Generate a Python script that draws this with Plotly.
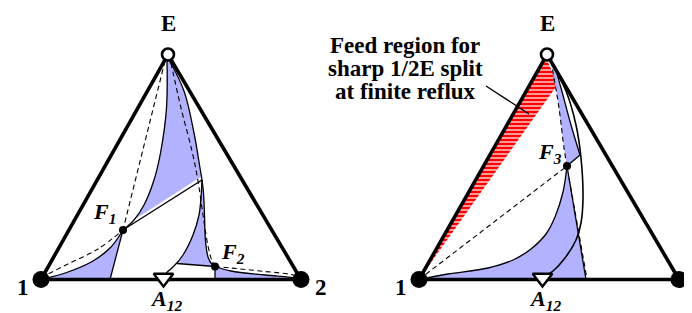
import plotly.graph_objects as go

# ---------------- data (drawing coordinates, pixel-like units) ----------------
# Left diagram
L_vertex_x = [33, 293, 160]          # 1, 2, E
L_vertex_y = [271.5, 271.5, 46.5]
L_A12 = [155.5, 270]
L_F1 = [115, 222]
L_F2 = [207, 258.5]
L_P = [194, 172]
L_foot_F1 = [102, 271.5]
L_foot_F2 = [207, 271.5]
L_tie_start = [169, 255.5]

L_curve_1F1_x = [33, 60, 85, 103, 115]
L_curve_1F1_y = [271.5, 264, 253, 239, 222]
L_dash_1F1_x = [33, 60, 90, 115]
L_dash_1F1_y = [269.5, 256, 241, 222]
L_curve_EF1_x = [159, 158.5, 152.5, 146, 136, 126, 115]
L_curve_EF1_y = [53, 100, 145, 172, 197, 212, 222]
L_dash_EF1_x = [157, 115]
L_dash_EF1_y = [53, 222]
L_curve_EP_x = [161, 176, 186, 192, 194]
L_curve_EP_y = [52, 83, 125, 160, 172]
L_curve_PF2_x = [194, 195.5, 196.5, 197.5, 200, 203, 207]
L_curve_PF2_y = [172, 185, 207, 233, 249, 255, 258.5]
L_sep_x = [194, 193, 191, 185, 175, 166, 158]
L_sep_y = [172, 190, 207, 227, 247, 258, 265]
L_dash_EF2_x = [163, 173, 184, 190, 195, 200, 204, 207]
L_dash_EF2_y = [55, 100, 143, 173, 207, 238, 253, 258.5]
L_curve_F2V2_x = [207, 223, 257, 287, 293]
L_curve_F2V2_y = [258.5, 263, 267, 270, 271.5]
L_dash_F2V2_x = [207, 223, 257, 283, 293]
L_dash_F2V2_y = [258.5, 260, 263.5, 266.5, 270]

# Right diagram
R_vertex_x = [411, 671, 539]
R_vertex_y = [271.5, 271.5, 46.5]
R_A12 = [534.5, 270]
R_F3 = [559, 158]
R_Q = [572, 147]
R_foot_F3 = [578, 271.5]
R_red_x = [538, 550, 412]
R_red_y = [50, 76, 270]
R_leader_x = [478, 521]
R_leader_y = [78, 106]
R_dash_1F3_x = [411, 559]
R_dash_1F3_y = [271.5, 158]
R_dash_EF3_x = [543, 551, 556, 559]
R_dash_EF3_y = [53, 100, 140, 158]
R_dash_F3down_x = [561, 579]
R_dash_F3down_y = [170, 271]
R_curve_EQ_x = [542, 546, 553, 563, 572]
R_curve_EQ_y = [51, 57, 80, 117, 147]
R_sep_x = [541, 558, 568, 573, 575, 573, 568, 557, 545, 537]
R_sep_y = [50, 83, 117, 150, 190, 215, 232, 250, 263, 268]
R_curve_1F3_x = [411, 440, 480, 505, 523, 538, 547, 555, 559]
R_curve_1F3_y = [271.5, 266, 260, 252, 241, 226, 209, 184, 158]

feed_text = ["Feed region for", "sharp 1/2E split", "at finite reflux"]
feed_text_x = 397
feed_text_y = [37, 60, 83]

BLUE = "rgb(178,178,255)"
FONT = "Liberation Serif"

fig = go.Figure()


def fill(xs, ys, color=BLUE, pattern=None):
    kw = {}
    if pattern is not None:
        kw["fillpattern"] = pattern
    fig.add_trace(go.Scatter(x=xs, y=ys, mode="lines", fill="toself",
                             fillcolor=color, line=dict(width=0, color=color),
                             hoverinfo="skip", showlegend=False, **kw))


def line(xs, ys, width=1.3, dash=None, color="black", shape="spline"):
    fig.add_trace(go.Scatter(x=xs, y=ys, mode="lines",
                             line=dict(width=width, color=color, dash=dash,
                                       shape=shape, smoothing=1.0),
                             hoverinfo="skip", showlegend=False))


DASH = "5px,3.5px"

# ---------------- left diagram ----------------
fill(L_curve_1F1_x + [L_foot_F1[0]], L_curve_1F1_y + [L_foot_F1[1]])
fill(L_curve_EF1_x + [L_P[0]] + L_curve_EP_x[::-1],
     L_curve_EF1_y + [L_P[1]] + L_curve_EP_y[::-1])
fill(L_sep_x[:5] + [L_tie_start[0]] + L_curve_PF2_x[::-1],
     L_sep_y[:5] + [L_tie_start[1]] + L_curve_PF2_y[::-1])
fill(L_curve_F2V2_x + [L_foot_F2[0]], L_curve_F2V2_y + [L_foot_F2[1]])

line([L_F1[0] + 2, L_P[0]], [L_F1[1] - 3, L_P[1] - 2.5], width=2.2, color="white", shape="linear")

line(L_curve_1F1_x, L_curve_1F1_y)
line(L_curve_EF1_x, L_curve_EF1_y)
line(L_curve_EP_x + L_curve_PF2_x[1:], L_curve_EP_y + L_curve_PF2_y[1:])
line(L_sep_x, L_sep_y)
line(L_curve_F2V2_x, L_curve_F2V2_y)
line([L_F1[0], L_P[0]], [L_F1[1], L_P[1]], shape="linear")
line([L_F1[0], L_foot_F1[0]], [L_F1[1], L_foot_F1[1]], shape="linear")
line([L_F2[0], L_foot_F2[0]], [L_F2[1], L_foot_F2[1]], shape="linear")
line([L_tie_start[0], L_F2[0]], [L_tie_start[1], L_F2[1]], shape="linear")
line(L_dash_1F1_x, L_dash_1F1_y, dash=DASH, width=1.1)
line(L_dash_EF1_x, L_dash_EF1_y, dash=DASH, width=1.1)
line(L_dash_EF2_x, L_dash_EF2_y, dash=DASH, width=1.1)
line(L_dash_F2V2_x, L_dash_F2V2_y, dash=DASH, width=1.1)

# ---------------- right diagram ----------------
fill(R_red_x, R_red_y, color="red",
     pattern=dict(shape="-", bgcolor="red", fgcolor="white", size=4, solidity=0.3,
                  fillmode="replace"))
fill(R_dash_EF3_x + [R_Q[0]] + R_curve_EQ_x[::-1],
     R_dash_EF3_y + [R_Q[1]] + R_curve_EQ_y[::-1])
fill(R_curve_1F3_x + [R_foot_F3[0]], R_curve_1F3_y + [R_foot_F3[1]])

line(R_curve_EQ_x, R_curve_EQ_y)
line(R_sep_x, R_sep_y, width=1.6)
line(R_curve_1F3_x, R_curve_1F3_y)
line([R_F3[0], R_Q[0]], [R_F3[1], R_Q[1]], shape="linear")
line([R_F3[0], R_foot_F3[0]], [R_F3[1], R_foot_F3[1]], shape="linear")
line(R_leader_x, R_leader_y, shape="linear")
line(R_dash_1F3_x, R_dash_1F3_y, dash=DASH, width=1.1, shape="linear")
line(R_dash_EF3_x, R_dash_EF3_y, dash=DASH, width=1.1)
line(R_dash_F3down_x, R_dash_F3down_y, dash=DASH, width=1.1, shape="linear")

# ---------------- triangles and markers ----------------
for vx, vy, a12, fpts in [(L_vertex_x, L_vertex_y, L_A12, [L_F1, L_F2]),
                          (R_vertex_x, R_vertex_y, R_A12, [R_F3])]:
    fig.add_trace(go.Scatter(x=vx + [vx[0]], y=vy + [vy[0]], mode="lines",
                             line=dict(color="black", width=3.6),
                             hoverinfo="skip", showlegend=False))
    fig.add_trace(go.Scatter(x=[p[0] for p in fpts], y=[p[1] for p in fpts], mode="markers",
                             marker=dict(color="black", size=8),
                             hoverinfo="skip", showlegend=False))
    fig.add_trace(go.Scatter(x=vx[:2], y=vy[:2], mode="markers",
                             marker=dict(color="black", size=17),
                             hoverinfo="skip", showlegend=False))
    fig.add_trace(go.Scatter(x=[vx[2]], y=[vy[2]], mode="markers",
                             marker=dict(color="white", size=12,
                                         line=dict(color="black", width=2.6)),
                             hoverinfo="skip", showlegend=False))
    fig.add_trace(go.Scatter(x=[a12[0]], y=[a12[1]], mode="markers",
                             marker=dict(symbol="triangle-down", color="white", size=17,
                                         line=dict(color="black", width=2.4)),
                             hoverinfo="skip", showlegend=False))


# ---------------- text ----------------
def label(x, y, text, size=23, xanchor="center"):
    fig.add_annotation(x=x, y=y, text=text, showarrow=False, xref="x", yref="y",
                       xanchor=xanchor, yanchor="middle",
                       font=dict(family=FONT, size=size, color="black"))


for vx in (L_vertex_x, R_vertex_x):
    label(vx[2] + 0.5, 15, "<b>E</b>")
    label(vx[0] - 18, 279, "<b>1</b>")
    label(vx[1] + 20, 279, "<b>2</b>")
label(L_A12[0] + 2, 292, "<b><i>A</i><sub><i>12</i></sub></b>", size=22)
label(R_A12[0] + 2, 292, "<b><i>A</i><sub><i>12</i></sub></b>", size=22)
label(110, 205, "<b><i>F</i><sub><i>1</i></sub></b>", size=22, xanchor="right")
label(211, 245, "<b><i>F</i><sub><i>2</i></sub></b>", size=22, xanchor="left")
label(556, 145, "<b><i>F</i><sub><i>3</i></sub></b>", size=22, xanchor="right")
for t, ty in zip(feed_text, feed_text_y):
    label(feed_text_x, ty, "<b>" + t + "</b>", size=23)

fig.update_layout(
    width=692, height=313, margin=dict(l=0, r=0, t=0, b=0),
    paper_bgcolor="white", plot_bgcolor="white",
    xaxis=dict(range=[0, 692], visible=False, fixedrange=True),
    yaxis=dict(range=[313, 0], visible=False, fixedrange=True),
)
fig.write_html("out.html")
